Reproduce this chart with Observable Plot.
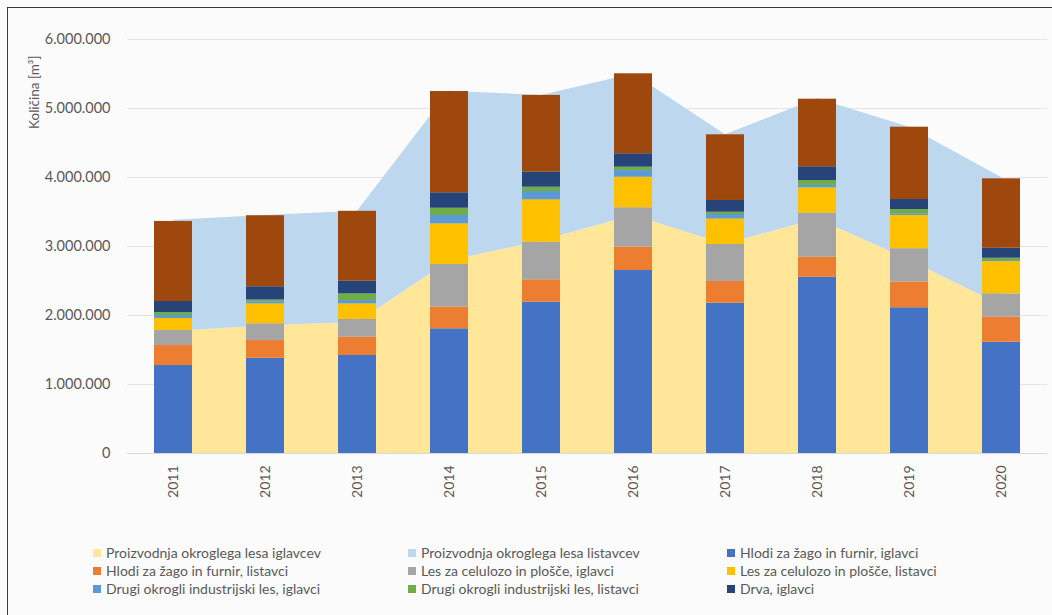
<!DOCTYPE html>
<html>
<head>
<meta charset="utf-8">
<script src="https://cdn.jsdelivr.net/npm/d3@7"></script>
<script src="https://cdn.jsdelivr.net/npm/@observablehq/plot@0.6"></script>
<style>
  html, body { margin: 0; padding: 0; background: #fbfbfb; overflow: hidden; }
  #wrap { position: relative; width: 1052px; height: 615px; font-family: Lato, "Open Sans", sans-serif; }
  #frame { position: absolute; left: 7px; top: 7px; width: 1100px; height: 700px; border-top: 1.5px solid #3a3a3a; border-left: 1.5px solid #3a3a3a; }
  #chart { position: absolute; left: 0; top: 0; }
  #legend { position: absolute; left: 0; top: 544px; width: 1052px; height: 60px; }
  .item { position: absolute; display: flex; align-items: center; font-size: 14px; color: #595959; white-space: nowrap; line-height: 18px; }
  .sw { width: 8px; height: 8px; margin-right: 5px; flex: none; }
</style>
</head>
<body>
<div id="wrap">
  <div id="frame"></div>
  <div id="chart"></div>
  <div id="legend"></div>
</div>
<script>
// ---- data ----
const years = ["2011","2012","2013","2014","2015","2016","2017","2018","2019","2020"];

// stacked areas (m3)
const areaNames = ["Proizvodnja okroglega lesa iglavcev", "Proizvodnja okroglega lesa listavcev"];
const areaColors = ["#FFE699", "#BDD7EE"];
const prodIglavci  = [1770000, 1850000, 1900000, 2790000, 3080000, 3450000, 3030000, 3400000, 2800000, 2140000];
const prodListavci = [1610000, 1600000, 1610000, 2460000, 2110000, 2050000, 1590000, 1740000, 1930000, 1860000];

// stacked bars (m3), bottom to top
const barNames = [
  "Hlodi za žago in furnir, iglavci",
  "Hlodi za žago in furnir, listavci",
  "Les za celulozo in plošče, iglavci",
  "Les za celulozo in plošče, listavci",
  "Drugi okrogli industrijski les, iglavci",
  "Drugi okrogli industrijski les, listavci",
  "Drva, iglavci",
  "Drva, listavci"
];
const barColors = ["#4472C4", "#ED7D31", "#A5A5A5", "#FFC000", "#5B9BD5", "#70AD47", "#264478", "#9E480E"];
const hlodiIglavci    = [1275000, 1380000, 1420000, 1807000, 2193000, 2652000, 2178000, 2555000, 2112000, 1613000];
const hlodiListavci   = [ 290000,  257000,  266000,  313000,  324000,  338000,  315000,  290000,  371000,  362000];
const celulozaIglavci = [ 218000,  242000,  256000,  619000,  546000,  570000,  536000,  638000,  484000,  339000];
const celulozaListavci= [ 174000,  290000,  228000,  590000,  614000,  445000,  371000,  367000,  483000,  468000];
const drugiIglavci    = [  43000,   30000,   47000,  120000,  120000,   95000,   64000,   35000,   24000,   15000];
const drugiListavci   = [  43000,   27000,   97000,  106000,   63000,   50000,   33000,   70000,   62000,   33000];
const drvaIglavci     = [ 160000,  190000,  183000,  223000,  217000,  193000,  170000,  200000,  145000,  145000];
const drvaListavci    = [1160000, 1030000, 1013000, 1468000, 1113000, 1160000,  952000,  980000, 1048000, 1006000];
const barValues = [hlodiIglavci, hlodiListavci, celulozaIglavci, celulozaListavci, drugiIglavci, drugiListavci, drvaIglavci, drvaListavci];

const yTicks = [0, 1000000, 2000000, 3000000, 4000000, 5000000, 6000000];
const yTitle = "Količina [m³]";

// legend entries (as shown in the reference)
const legendNames = [
  "Proizvodnja okroglega lesa iglavcev", "Proizvodnja okroglega lesa listavcev", "Hlodi za žago in furnir, iglavci",
  "Hlodi za žago in furnir, listavci", "Les za celulozo in plošče, iglavci", "Les za celulozo in plošče, listavci",
  "Drugi okrogli industrijski les, iglavci", "Drugi okrogli industrijski les, listavci", "Drva, iglavci"
];

// ---- tables ----
const areaRows = [];
[prodIglavci, prodListavci].forEach((vals, j) => vals.forEach((v, i) => areaRows.push({year: years[i], series: areaNames[j], value: v})));
const barRows = [];
barValues.forEach((vals, j) => vals.forEach((v, i) => barRows.push({year: years[i], series: barNames[j], value: v})));

const fmt = d3.formatLocale({decimal: ",", thousands: ".", grouping: [3], currency: ["", ""]}).format(",");

const chart = Plot.plot({
  width: 1052,
  height: 510,
  marginLeft: 127,
  marginRight: 5,
  marginTop: 39,
  marginBottom: 57,
  style: {fontFamily: "Lato, 'Open Sans', sans-serif", background: "transparent", color: "#595959", fontSize: "14px"},
  x: {domain: years, paddingInner: 0.587, paddingOuter: 0.2935, round: false},
  y: {domain: [0, 6000000]},
  color: {domain: [...areaNames, ...barNames], range: [...areaColors, ...barColors]},
  marks: [
    Plot.gridY(yTicks, {stroke: "#e4e4e4", strokeOpacity: 1, strokeWidth: 1}),
    Plot.areaY(areaRows, {x: "year", y: "value", fill: "series", order: areaNames, curve: "linear"}),
    Plot.ruleY([0], {stroke: "#d9d9d9", strokeWidth: 1}),
    Plot.barY(barRows, {x: "year", y: "value", fill: "series", order: barNames}),
    Plot.axisY(yTicks, {tickSize: 0, tickPadding: 17, tickFormat: fmt, fontSize: 14.5, fill: "#595959", label: null}),
    Plot.axisX({tickSize: 0, tickRotate: -90, tickPadding: 12, fontSize: 14, fill: "#595959", label: null}),
    Plot.text([yTitle], {frameAnchor: "top-left", rotate: -90, textAnchor: "end", dx: -98, dy: 16, fontSize: 13.5, fill: "#595959"})
  ]
});
document.getElementById("chart").appendChild(chart);

// ---- legend ----
const colorOf = new Map([...areaNames.map((n, i) => [n, areaColors[i]]), ...barNames.map((n, i) => [n, barColors[i]])]);
const colX = [93, 408, 727];
const legend = document.getElementById("legend");
legendNames.forEach((name, k) => {
  const col = k % 3, row = Math.floor(k / 3);
  const el = document.createElement("div");
  el.className = "item";
  el.style.left = colX[col] + "px";
  el.style.top = (row * 18) + "px";
  const sw = document.createElement("span");
  sw.className = "sw";
  sw.style.background = colorOf.get(name);
  el.appendChild(sw);
  el.appendChild(document.createTextNode(name));
  legend.appendChild(el);
});
</script>
</body>
</html>
